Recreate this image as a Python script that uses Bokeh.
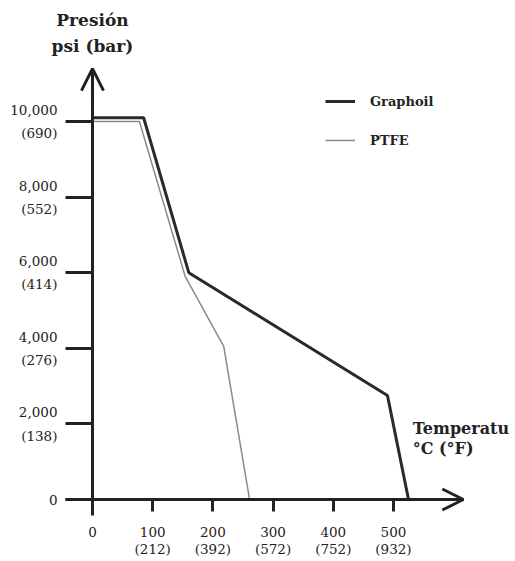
from bokeh.plotting import figure
from bokeh.models import Range1d, FixedTicker, Arrow, OpenHead, Label
from bokeh.embed import file_html
from bokeh.resources import INLINE

# data
graphoil_t = [0, 85, 160, 490, 525]
graphoil_p = [10100, 10100, 6000, 2750, 0]
ptfe_t = [0, 78, 154, 218, 261]
ptfe_p = [10000, 10000, 5900, 4050, 0]

x_ticks = [0, 100, 200, 300, 400, 500]
x_labels = ["0", "100\n(212)", "200\n(392)", "300\n(572)", "400\n(752)", "500\n(932)"]
y_ticks = [0, 2000, 4000, 6000, 8000, 10000]
y_labels = ["0", "2,000\n(138)", "4,000\n(276)", "6,000\n(414)", "8,000\n(552)", "10,000\n(690)"]

FONT = "DejaVu Serif"
INK = "#222222"

p = figure(width=515, height=561, output_backend="svg", toolbar_location=None,
           x_range=Range1d(-152.8, 702.7), y_range=Range1d(-1640, 13201),
           min_border_left=0, min_border_right=0, min_border_top=0, min_border_bottom=0)
p.outline_line_color = None
p.grid.visible = False
p.background_fill_color = "white"

p.line(graphoil_t, graphoil_p, line_color="#2a2a2a", line_width=3, legend_label="Graphoil")
p.line(ptfe_t, ptfe_p, line_color="#8a8a8a", line_width=1.5, legend_label="PTFE")

for ax in (p.xaxis[0], p.yaxis[0]):
    ax.fixed_location = 0
    ax.axis_line_width = 3
    ax.axis_line_color = INK
    ax.major_tick_line_width = 3
    ax.major_tick_line_color = INK
    ax.minor_tick_line_color = None
    ax.major_tick_in = 0
    ax.major_label_text_font = FONT
    ax.major_label_text_font_size = "13.5px"
    ax.major_label_text_color = INK

p.xaxis[0].bounds = (-44.9, 616)
p.xaxis[0].ticker = FixedTicker(ticks=x_ticks)
p.xaxis[0].major_label_overrides = dict(zip(x_ticks, x_labels))
p.xaxis[0].major_tick_out = 12
p.xaxis[0].major_label_standoff = 12
p.xaxis[0].major_label_text_line_height = 1.1

p.yaxis[0].bounds = (-423, 11400)
p.yaxis[0].ticker = FixedTicker(ticks=y_ticks)
p.yaxis[0].major_label_overrides = dict(zip(y_ticks, y_labels))
p.yaxis[0].major_tick_out = 27
p.yaxis[0].major_label_standoff = 8
p.yaxis[0].major_label_text_line_height = 1.45

p.add_layout(Arrow(end=OpenHead(size=22, line_width=3, line_color=INK),
                   x_start=0, y_start=10500, x_end=0, y_end=11400,
                   line_width=3, line_color=INK))
p.add_layout(Arrow(end=OpenHead(size=21, line_width=3, line_color=INK),
                   x_start=560, y_start=0, x_end=616, y_end=0,
                   line_width=3, line_color=INK))

p.add_layout(Label(x=0, y=12330, text="Presión\npsi (bar)", text_align="center",
                   text_baseline="middle", text_font=FONT, text_font_style="bold",
                   text_font_size="17px", text_color=INK, text_line_height=1.3))
p.add_layout(Label(x=532, y=1614, text="Temperatu\n°C (°F)", text_align="left",
                   text_baseline="middle", text_font=FONT, text_font_style="bold",
                   text_font_size="16px", text_color=INK, text_line_height=1.1))

lg = p.legend[0]
lg.location = (325, 411)
lg.border_line_color = None
lg.background_fill_alpha = 0
lg.padding = 0
lg.margin = 0
lg.spacing = 19
lg.glyph_width = 30
lg.label_standoff = 15
lg.label_text_font = FONT
lg.label_text_font_style = "bold"
lg.label_text_font_size = "13px"
lg.label_text_color = INK

open("out.html", "w").write(file_html(p, INLINE))
